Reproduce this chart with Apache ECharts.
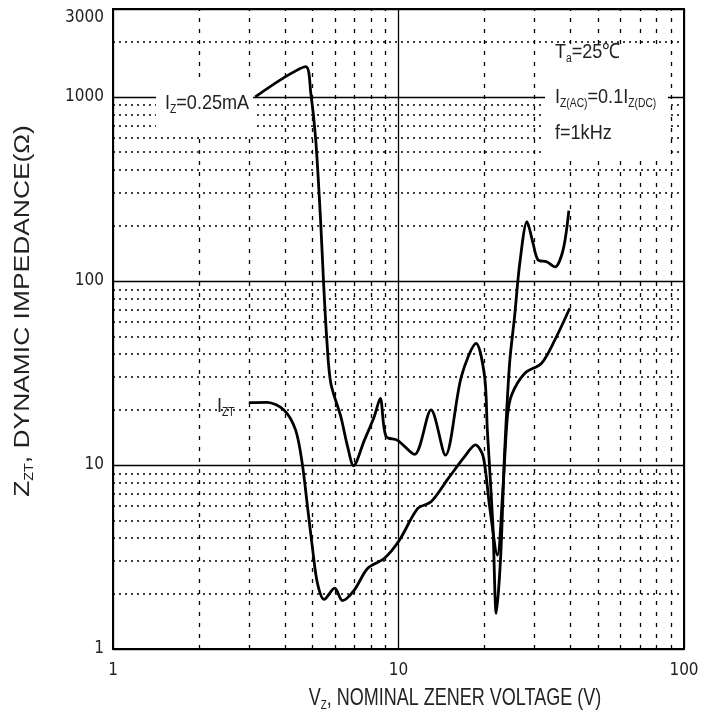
<!DOCTYPE html>
<html>
<head>
<meta charset="utf-8">
<title>Dynamic impedance vs nominal zener voltage</title>
<script src="https://cdn.jsdelivr.net/npm/echarts@6/dist/echarts.min.js"></script>
<style>
  html, body { margin: 0; padding: 0; background: #fff; }
  #chart { width: 712px; height: 728px; }
</style>
</head>
<body>
<div id="chart"></div>
<script>
// Iz = 0.25 mA curve
var lowCurrentV = [3.15, 3.96, 4.73, 4.93, 5.13, 5.34, 5.46, 5.61, 5.79, 6.28, 6.63, 6.96, 7.59, 8.22, 8.63,
  9.04, 9.93, 11.37, 13.0, 14.6, 16.6, 18.7, 20.03, 20.47, 21.4, 22.0, 22.8, 23.5, 24.5, 25.5, 26.6,
  28.2, 29.6, 30.8, 33.0, 35.3, 37.7, 39.5];
var lowCurrentZ = [1000, 1268, 1460, 1047, 584, 207, 100, 47.8, 27.9, 18.3, 12.6, 9.9, 13.6, 18.3, 23,
  14.3, 13.6, 11.4, 19.9, 11.3, 30.2, 45.8, 30.2, 15.5, 4.8, 1.56, 3.2, 11.1, 35.7, 64, 125,
  210, 160, 130, 127, 119, 147, 241];

// Izt curve
var testCurrentV = [2.99, 3.47, 3.97, 4.36, 4.60, 4.80, 4.99, 5.20, 5.49, 5.98, 6.36, 7.0, 7.79, 8.92,
  10.07, 11.68, 13.0, 14.9, 17.04, 18.6, 19.8, 20.85, 22.2, 23.2, 24.07, 24.9, 27.7, 31.7, 35.3, 39.8];
var testCurrentZ = [21.8, 21.9, 19.9, 15.5, 10.2, 5.94, 3.6, 2.28, 1.86, 2.14, 1.83, 2.09, 2.74, 3.11,
  3.9, 5.8, 6.3, 8.4, 11.1, 12.84, 11.1, 5.94, 3.24, 7.3, 18.3, 24.0, 31.5, 35.7, 47.8, 71];

// minor grid positions
var xMinor = [2, 3, 4, 5, 6, 7, 8, 9, 20, 30, 40, 50, 60, 70, 80, 90];
var yMinor = [2, 3, 4, 5, 6, 7, 8, 9, 20, 30, 40, 50, 60, 70, 80, 90,
  200, 300, 400, 500, 600, 700, 800, 900, 2000];

var TICK_FONT = "'DejaVu Sans Condensed', 'Liberation Sans', sans-serif";
var TEXT_FONT = "'Liberation Sans', Arial, sans-serif";
var INK = "#222";

function pairs(xs, ys) {
  return xs.map(function (x, i) { return [x, ys[i]]; });
}

// rich styles: a = normal text, s = subscript
function richText(size, subSize, subDrop) {
  return {
    a: { fontFamily: TEXT_FONT, fontSize: size, lineHeight: size + 2, verticalAlign: "top", fill: INK },
    s: { fontFamily: TEXT_FONT, fontSize: subSize, lineHeight: subSize, verticalAlign: "bottom",
         padding: [subDrop, 0, 0, 0], fill: INK }
  };
}

var noteRich = richText(21, 12, 18);

function note(x, y, text) {
  return {
    type: "text", z: 5, silent: true, x: x, y: y, scaleX: 0.86,
    style: { text: text, rich: noteRich, align: "left", verticalAlign: "top" }
  };
}

function minorLines(items, dash, width) {
  return {
    type: "line",
    data: [],
    z: 1,
    silent: true,
    markLine: {
      z: 1,
      silent: true,
      animation: false,
      symbol: ["none", "none"],
      label: { show: false },
      emphasis: { disabled: true },
      lineStyle: { color: "#000", width: width, type: dash },
      data: items
    }
  };
}

var chart = echarts.init(document.getElementById("chart"));

var option = {
  animation: false,
  backgroundColor: "#fff",
  grid: {
    left: 113, right: 28, top: 9, bottom: 79,
    show: true, borderColor: "#000", borderWidth: 2, backgroundColor: "transparent"
  },
  xAxis: {
    type: "log",
    logBase: 10,
    min: 1,
    max: 100,
    axisLine: { lineStyle: { color: "#000", width: 2 } },
    axisTick: { show: false },
    splitLine: { show: true, lineStyle: { color: "#000", width: 1.3 } },
    axisLabel: {
      margin: 13,
      fontFamily: TICK_FONT,
      fontSize: 17,
      color: INK,
      formatter: function (v) { return String(Math.round(v)); }
    }
  },
  yAxis: {
    type: "log",
    logBase: 10,
    min: 1,
    max: 3000,
    axisLine: { lineStyle: { color: "#000", width: 2 } },
    axisTick: { show: false },
    splitLine: { show: true, lineStyle: { color: "#000", width: 1.3 } },
    axisLabel: {
      margin: 9,
      fontFamily: TICK_FONT,
      fontSize: 17,
      color: INK,
      formatter: function (v) {
        var n = Math.round(v);
        return n >= 3000 ? "{t|" + n + "}" : String(n);
      },
      rich: { t: { fontFamily: TICK_FONT, fontSize: 17, color: INK, padding: [18, 0, 0, 0] } }
    }
  },
  series: [
    minorLines(xMinor.map(function (v) { return { xAxis: v }; }), [4, 7], 1.3),
    minorLines(yMinor.map(function (v) { return { yAxis: v }; }), [2, 4], 1.5),
    {
      name: "Iz=0.25mA",
      type: "line",
      z: 4,
      data: pairs(lowCurrentV, lowCurrentZ),
      showSymbol: false,
      smooth: 0.3,
      lineStyle: { color: "#000", width: 2.8 }
    },
    {
      name: "Izt",
      type: "line",
      z: 4,
      data: pairs(testCurrentV, testCurrentZ),
      showSymbol: false,
      smooth: 0.3,
      lineStyle: { color: "#000", width: 2.8 }
    }
  ],
  graphic: [
    // white boxes behind the annotations
    { type: "rect", z: 3, silent: true, shape: { x: 156, y: 84, width: 97, height: 48 }, style: { fill: "#fff" } },
    { type: "rect", z: 3, silent: true, shape: { x: 545, y: 44, width: 123, height: 116 }, style: { fill: "#fff" } },
    note(165, 93, "{a|I}{s|Z}{a|=0.25mA}"),
    note(217, 396, "{a|I}{s|ZT}"),
    note(555, 42, "{a|T}{s|a}{a|=25\u2103}"),
    note(555, 87, "{a|I}{s|Z(AC)}{a|=0.1I}{s|Z(DC)}"),
    note(555, 123, "{a|f=1kHz}"),
    {
      type: "text", z: 5, silent: true, x: 455, y: 686, scaleX: 0.75,
      style: {
        text: "{a|V}{s|Z}{a|, NOMINAL ZENER VOLTAGE (V)}",
        rich: richText(24, 13, 26), align: "center", verticalAlign: "top"
      }
    },
    {
      type: "text", z: 5, silent: true, x: 12, y: 311, rotation: Math.PI / 2, scaleX: 1.2,
      style: {
        text: "{a|Z}{s|ZT}{a|, DYNAMIC IMPEDANCE(\u03A9)}",
        rich: richText(22, 12, 17), align: "center", verticalAlign: "top"
      }
    }
  ]
};

chart.setOption(option);
</script>
</body>
</html>
